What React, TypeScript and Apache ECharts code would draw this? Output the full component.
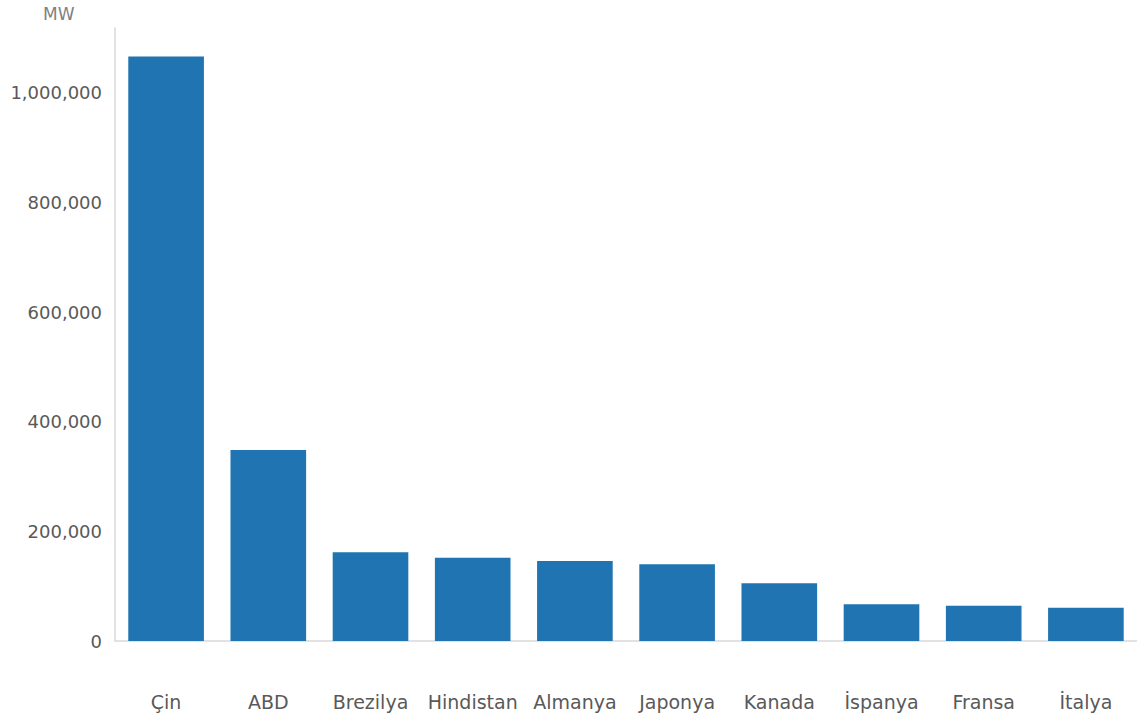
import React, { useEffect, useRef } from "react";
import * as echarts from "echarts";

const categories = ["Çin", "ABD", "Brezilya", "Hindistan", "Almanya", "Japonya", "Kanada", "İspanya", "Fransa", "İtalya"];
const capacityMW = [1066000, 348500, 162000, 152000, 146000, 140000, 105300, 67000, 64400, 60800];
const yTicks = { min: 0, max: 1118000, interval: 200000 };
const unitLabel = "MW";

export default function App() {
  const ref = useRef<HTMLDivElement>(null);
  useEffect(() => {
    document.body.style.margin = "0";
    if (!ref.current) return;
    const chart = echarts.init(ref.current, null, { renderer: "svg" });
    chart.setOption({
      animation: false,
      grid: { left: 115, right: -5, top: 28, bottom: 77, containLabel: false },
      graphic: [
        {
          type: "text",
          left: 43,
          top: 5,
          style: { text: unitLabel, fill: "#7f7f7f", font: "17px 'DejaVu Sans'" },
        },
      ],
      xAxis: {
        type: "category",
        data: categories,
        axisLine: { show: true, lineStyle: { color: "#d9d9d9", width: 1.5 } },
        axisTick: { show: false },
        axisLabel: {
          color: "#595959",
          fontFamily: "DejaVu Sans",
          fontSize: 19,
          margin: 51,
          interval: 0,
        },
      },
      yAxis: {
        type: "value",
        min: yTicks.min,
        max: yTicks.max,
        interval: yTicks.interval,
        splitLine: { show: false },
        axisLine: { show: true, lineStyle: { color: "#d9d9d9", width: 1.5 } },
        axisTick: { show: false },
        axisLabel: {
          showMaxLabel: false,
          color: "#595959",
          fontFamily: "DejaVu Sans",
          fontSize: 18,
          margin: 13,
          formatter: (v: number) => v.toLocaleString("en-US"),
        },
      },
      series: [
        {
          type: "bar",
          data: capacityMW,
          barCategoryGap: "26%",
          itemStyle: { color: "#1f74b1" },
        },
      ],
    });
    return () => chart.dispose();
  }, []);
  return <div ref={ref} style={{ width: 1137, height: 718 }} />;
}
